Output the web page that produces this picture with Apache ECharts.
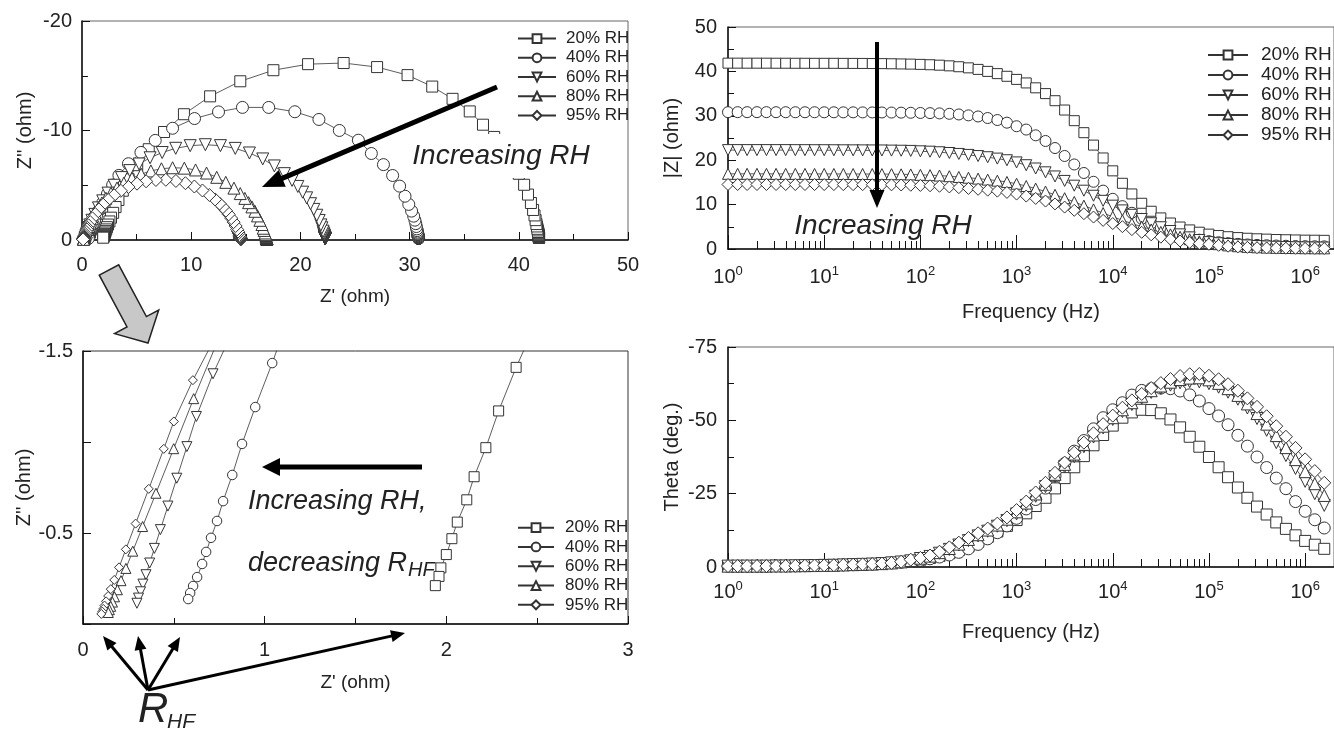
<!DOCTYPE html>
<html>
<head>
<meta charset="utf-8">
<title>Impedance vs RH</title>
<script src="https://cdn.jsdelivr.net/npm/echarts@6/dist/echarts.min.js"></script>
<style>
  html, body { margin: 0; padding: 0; background: #fff; }
  #main { width: 1334px; height: 731px; }
</style>
</head>
<body>
<div id="main"></div>
<script>
// series names
const names = ['20% RH', '40% RH', '60% RH', '80% RH', '95% RH'];

// measurement frequencies (Hz), 10 per decade
const freq = [
  1, 1.26, 1.58, 2, 2.51, 3.16, 3.98, 5.01, 6.31, 7.94,
  10, 12.6, 15.8, 20, 25.1, 31.6, 39.8, 50.1, 63.1, 79.4,
  100, 126, 158, 200, 251, 316, 398, 501, 631, 794,
  1000, 1260, 1580, 2000, 2510, 3160, 3980, 5010, 6310, 7940,
  1e4, 1.26e4, 1.58e4, 2e4, 2.51e4, 3.16e4, 3.98e4, 5.01e4, 6.31e4, 7.94e4,
  1e5, 1.26e5, 1.58e5, 2e5, 2.51e5, 3.16e5, 3.98e5, 5.01e5, 6.31e5, 7.94e5,
  1e6, 1.26e6, 1.58e6
];

// |Z| (ohm)
const zmag20 = [
  41.86,41.86,41.85,41.85,41.85,41.84,41.84,41.83,41.83,41.82,
  41.82,41.82,41.81,41.80,41.79,41.77,41.75,41.72,41.68,41.64,
  41.58,41.50,41.40,41.25,41.05,40.80,40.45,40.00,39.50,38.90,
  38.20,37.40,36.30,35.00,33.40,31.30,28.90,26.20,23.40,20.50,
  17.60,14.80,12.40,10.30,8.50,7.00,5.85,4.95,4.30,3.78,
  3.35,3.03,2.77,2.57,2.42,2.30,2.22,2.135,2.084,2.036,
  1.994,1.977,1.951
];
const zmag40 = [
  30.82,30.82,30.82,30.82,30.82,30.81,30.81,30.80,30.80,30.80,
  30.79,30.79,30.78,30.78,30.77,30.76,30.75,30.73,30.71,30.68,
  30.64,30.60,30.54,30.45,30.30,30.10,29.85,29.50,29.05,28.45,
  27.65,26.90,25.60,24.33,22.74,20.95,19.04,17.12,15.14,13.15,
  11.30,9.65,8.16,6.80,5.75,4.80,3.90,3.15,2.55,2.10,
  1.772,1.523,1.321,1.160,1.025,0.930,0.849,0.785,0.734,0.679,
  0.641,0.614,0.595
];
const zmag60 = [
  22.27,22.27,22.27,22.27,22.27,22.27,22.27,22.26,22.26,22.25,
  22.25,22.24,22.23,22.22,22.21,22.20,22.19,22.16,22.13,22.09,
  22.00,21.92,21.79,21.62,21.41,21.19,20.93,20.67,20.36,19.99,
  19.50,18.87,18.13,17.27,16.34,15.33,14.26,13.13,11.99,10.85,
  9.76,8.69,7.70,6.75,5.80,4.90,4.05,3.30,2.62,2.02,
  1.55,1.30,1.13,0.953,0.799,0.671,0.572,0.497,0.440,0.396,
  0.363,0.337,0.318
];
const zmag80 = [
  16.93,16.93,16.93,16.93,16.93,16.92,16.92,16.92,16.91,16.91,
  16.91,16.90,16.90,16.89,16.89,16.88,16.87,16.85,16.82,16.79,
  16.70,16.63,16.54,16.39,16.22,16.05,15.85,15.63,15.39,15.10,
  14.70,14.18,13.60,12.94,12.21,11.44,10.60,9.76,8.92,8.09,
  7.26,6.46,5.73,5.03,4.40,3.84,3.30,2.75,2.20,1.72,
  1.38,1.085,0.823,0.628,0.485,0.386,0.317,0.267,0.229,0.202,
  0.181,0.165,0.153
];
const zmag95 = [
  14.53,14.53,14.53,14.53,14.53,14.53,14.53,14.52,14.52,14.51,
  14.51,14.51,14.50,14.49,14.49,14.48,14.46,14.45,14.42,14.36,
  14.31,14.24,14.13,13.98,13.81,13.64,13.45,13.25,13.03,12.74,
  12.37,11.92,11.39,10.80,10.15,9.44,8.71,7.95,7.20,6.45,
  5.73,5.03,4.37,3.76,3.19,2.66,2.20,1.80,1.47,1.22,
  1.06,0.826,0.623,0.473,0.369,0.297,0.245,0.207,0.178,0.156,
  0.139,0.126,0.115
];

// phase angle (deg.)
const theta20 = [
  -0.3,-0.3,-0.3,-0.3,-0.3,-0.35,-0.35,-0.4,-0.45,-0.5,
  -0.55,-0.6,-0.7,-0.8,-0.9,-1.0,-1.2,-1.4,-1.7,-2.0,
  -2.5,-3.1,-3.8,-4.7,-5.8,-7.1,-8.6,-10.3,-12.1,-14.0,
  -16.0,-18.3,-20.8,-23.6,-26.8,-30.3,-34.0,-37.8,-41.5,-45.0,
  -48.2,-50.9,-52.7,-53.6,-53.5,-52.4,-50.3,-47.6,-44.4,-41.0,
  -37.5,-34.0,-30.6,-27.1,-23.6,-20.6,-17.9,-15.2,-13.0,-10.8,
  -8.9,-7.6,-6.2
];
const theta40 = [
  -0.3,-0.3,-0.3,-0.3,-0.3,-0.35,-0.35,-0.4,-0.45,-0.5,
  -0.55,-0.6,-0.7,-0.8,-0.9,-1.0,-1.15,-1.35,-1.6,-1.9,
  -2.3,-2.8,-3.4,-4.1,-5.0,-6.2,-7.7,-9.6,-11.7,-14.0,
  -16.6,-19.8,-23.0,-26.9,-31.0,-35.3,-39.5,-43.1,-47.1,-50.9,
  -53.6,-56.0,-58.6,-60.2,-60.8,-61.0,-60.8,-60.0,-58.7,-56.6,
  -54.0,-51.5,-48.5,-44.9,-41.2,-37.5,-33.9,-30.3,-26.7,-22.3,
  -19.0,-16.1,-13.3
];
const theta60 = [
  -0.3,-0.3,-0.3,-0.3,-0.3,-0.35,-0.35,-0.4,-0.45,-0.5,
  -0.55,-0.6,-0.7,-0.8,-0.9,-1.0,-1.15,-1.4,-1.7,-2.1,
  -2.9,-3.6,-4.7,-6.0,-7.5,-9.0,-10.6,-12.2,-13.9,-15.8,
  -18.1,-21.0,-24.1,-27.4,-30.8,-34.2,-37.6,-41.0,-44.3,-47.4,
  -50.3,-53.0,-55.4,-57.6,-59.5,-60.9,-62.0,-62.8,-63.2,-63.1,
  -62.5,-61.3,-59.6,-57.2,-54.2,-50.6,-46.6,-42.4,-38.0,-33.6,
  -29.2,-25.0,-21.0
];
const theta80 = [
  -0.3,-0.3,-0.3,-0.3,-0.3,-0.35,-0.35,-0.4,-0.45,-0.5,
  -0.55,-0.6,-0.7,-0.8,-0.9,-1.0,-1.15,-1.4,-1.75,-2.2,
  -3.0,-3.7,-4.9,-6.3,-7.8,-9.4,-11.0,-12.6,-14.3,-16.3,
  -18.8,-21.8,-24.9,-28.2,-31.6,-35.0,-38.5,-41.8,-45.0,-48.0,
  -50.9,-53.6,-56.0,-58.2,-60.1,-61.7,-63.0,-63.9,-64.4,-64.5,
  -63.8,-62.6,-60.8,-58.5,-55.6,-52.3,-48.7,-44.8,-40.7,-36.6,
  -32.5,-28.4,-24.4
];
const theta95 = [
  -0.3,-0.3,-0.3,-0.3,-0.3,-0.35,-0.35,-0.4,-0.45,-0.5,
  -0.55,-0.6,-0.7,-0.8,-0.9,-1.0,-1.2,-1.4,-1.8,-2.5,
  -3.1,-3.9,-5.2,-6.7,-8.3,-9.9,-11.5,-13.1,-14.8,-16.9,
  -19.4,-22.3,-25.4,-28.7,-32.1,-35.6,-39.0,-42.4,-45.6,-48.7,
  -51.6,-54.3,-56.8,-59.0,-61.0,-62.7,-64.1,-65.1,-65.7,-65.8,
  -65.2,-64.0,-62.3,-60.1,-57.5,-54.6,-51.4,-48.0,-44.4,-40.6,
  -36.7,-32.7,-28.7
];

// tick labels
const decades = [1, 10, 100, 1000, 1e4, 1e5, 1e6];
const fMax = 1995262; // 10^6.3, right edge of the frequency axes

const zmag = [zmag20, zmag40, zmag60, zmag80, zmag95];
const theta = [theta20, theta40, theta60, theta80, theta95];

const FONT = 'Liberation Sans, Arial, Helvetica, sans-serif';
const INK = '#222';
const symbols = ['rect', 'circle', 'triangle', 'triangle', 'diamond'];
const rotates = [0, 0, 180, 0, 0];
const sizeBig = [11, 12, 12, 12, 13];
const sizeSmall = [10, 9.5, 10, 10, 9];

// minor log ticks 2..9 of every decade
const minorTicks = [];
decades.forEach(function (d) {
  for (let k = 2; k <= 9; k++) if (k * d < fMax) minorTicks.push(k * d);
});

// Nyquist points built from |Z| and theta
function nyquist(i) {
  return freq.map(function (f, j) {
    const r = theta[i][j] * Math.PI / 180;
    return [zmag[i][j] * Math.cos(r), zmag[i][j] * Math.sin(r)];
  });
}

function line(i, xIdx, yIdx, data, size) {
  return {
    name: names[i], type: 'line', xAxisIndex: xIdx, yAxisIndex: yIdx, data: data,
    symbol: symbols[i], symbolRotate: rotates[i], symbolSize: size,
    lineStyle: { color: '#333', width: 0.8 },
    itemStyle: { color: '#fff', borderColor: '#333', borderWidth: 1 },
    emphasis: { disabled: true }, clip: true
  };
}

const series = [];
names.forEach(function (n, i) {
  const nq = nyquist(i);
  series.push(line(i, 0, 0, nq, sizeBig[i]));
  series.push(line(i, 1, 1, nq, sizeSmall[i]));
  series.push(line(i, 2, 2, freq.map(function (f, j) { return [f, zmag[i][j]]; }), sizeBig[i] - 1));
  series.push(line(i, 4, 3, freq.map(function (f, j) { return [f, theta[i][j]]; }), sizeBig[i]));
});

const tickStyle = { color: '#111', width: 1 };
const axisLineStyle = { lineStyle: { color: '#111', width: 1.5 } };
const labelStyle = { color: INK, fontSize: 20, fontFamily: FONT };
const nameStyle = { color: INK, fontSize: 20, fontFamily: FONT };

function valueAxis(grid, min, max, interval, extra) {
  return Object.assign({
    type: 'value', gridIndex: grid, min: min, max: max, interval: interval,
    axisLine: axisLineStyle,
    axisTick: { inside: true, length: 8, lineStyle: tickStyle },
    minorTick: { show: true, splitNumber: 2, length: 6, lineStyle: tickStyle },
    splitLine: { show: false },
    axisLabel: Object.assign({ margin: 10 }, labelStyle),
    nameLocation: 'middle', nameTextStyle: nameStyle
  }, extra);
}

function powLabel(v) {
  return '{b|10}{e|' + Math.round(Math.log10(v)) + '}';
}

function logAxis(grid, margin, gap) {
  return {
    type: 'log', logBase: 10, gridIndex: grid, min: 1, max: fMax, position: 'bottom',
    axisLine: axisLineStyle,
    axisTick: { inside: true, length: 14, customValues: decades, lineStyle: tickStyle },
    axisLabel: {
      customValues: decades, formatter: powLabel, margin: margin, color: INK,
      rich: {
        b: { fontSize: 20, lineHeight: 24, fontFamily: FONT, color: INK },
        e: { fontSize: 13, lineHeight: 12, verticalAlign: 'top', fontFamily: FONT, color: INK }
      }
    },
    splitLine: { show: false },
    name: 'Frequency (Hz)', nameLocation: 'middle', nameGap: gap, nameTextStyle: nameStyle
  };
}

function minorLogAxis(grid) {
  return {
    type: 'log', logBase: 10, gridIndex: grid, min: 1, max: fMax, position: 'bottom',
    axisLine: { show: false },
    axisTick: { inside: true, length: 8, customValues: minorTicks, lineStyle: tickStyle },
    axisLabel: { show: false }, splitLine: { show: false }
  };
}

function legend(left, top, itemW, fs, lh, pad) {
  return {
    data: names, orient: 'vertical', left: left, top: top, padding: 0,
    itemWidth: itemW, itemHeight: 11, itemGap: 0, selectedMode: false,
    textStyle: { fontSize: fs, lineHeight: lh, color: INK, fontFamily: FONT, padding: [0, 0, 0, pad] }
  };
}

// annotation arrows
function arrow(x1, y1, x2, y2, lw, hl, hw) {
  const dx = x2 - x1, dy = y2 - y1, L = Math.hypot(dx, dy), ux = dx / L, uy = dy / L;
  const bx = x2 - ux * hl, by = y2 - uy * hl;
  return [
    { type: 'line', z: 60, shape: { x1: x1, y1: y1, x2: bx + ux * 2, y2: by + uy * 2 },
      style: { stroke: '#000', lineWidth: lw } },
    { type: 'polygon', z: 60, shape: { points: [[x2, y2], [bx - uy * hw, by + ux * hw], [bx + uy * hw, by - ux * hw]] },
      style: { fill: '#000' } }
  ];
}

function label(x, y, txt, size, z, extra) {
  return {
    type: 'text', x: x, y: y, z: z,
    style: Object.assign({
      text: txt, fontSize: size, fontStyle: 'italic', fontFamily: FONT, fill: INK,
      align: 'left', verticalAlign: 'middle', textAlign: 'left', textVerticalAlign: 'middle'
    }, extra || {})
  };
}

const graphics = [].concat(
  arrow(497, 87, 262, 187, 5, 22, 9),
  arrow(877, 42, 877, 208, 4, 18, 7.5),
  arrow(422, 467, 262, 467, 5, 18, 9),
  arrow(148, 690, 103, 636, 3, 14, 6),
  arrow(148, 690, 138, 636, 3, 14, 6),
  arrow(148, 690, 180, 637, 3, 14, 6),
  arrow(148, 690, 405, 633, 3, 14, 6),
  [
    { type: 'polygon', z: 60,
      shape: { points: [[99.3, 275.2], [118.7, 264.8], [146.4, 316.6], [158.7, 310.0], [148, 343], [114.6, 333.6], [127.0, 327.0]] },
      style: { fill: '#c8c8c8', stroke: '#222', lineWidth: 1.5 } },
    label(501, 156, 'Increasing RH', 28, 50,
      { align: 'center', textAlign: 'center', backgroundColor: '#fff', padding: [8, 6] }),
    label(883, 226, 'Increasing RH', 28, 50, { align: 'center', textAlign: 'center' }),
    label(248, 501, 'Increasing RH,', 27, 0),
    label(248, 563, 'decreasing R', 27, 0),
    label(408, 570, 'HF', 20, 0),
    label(138, 710, 'R', 42, 60),
    label(167, 722, 'HF', 21, 60)
  ]
);

const chart = echarts.init(document.getElementById('main'), null, { renderer: 'canvas' });
chart.setOption({
  animation: false,
  backgroundColor: '#fff',
  textStyle: { fontFamily: FONT },
  grid: [
    { left: 82, top: 21, width: 546, height: 219, show: true, borderColor: '#666', borderWidth: 1 },
    { left: 83, top: 351, width: 545, height: 273, show: true, borderColor: '#333', borderWidth: 1 },
    { left: 728, top: 27, width: 606, height: 222, show: true, borderColor: '#666', borderWidth: 1 },
    { left: 728, top: 347, width: 606, height: 220, show: true, borderColor: '#666', borderWidth: 1 }
  ],
  xAxis: [
    valueAxis(0, 0, 50, 10, { name: "Z' (ohm)", nameGap: 47,
      nameTextStyle: Object.assign({}, nameStyle, { fontSize: 19 }),
      axisLabel: Object.assign({ margin: 15 }, labelStyle) }),
    valueAxis(1, 0, 3, 1, { name: "Z' (ohm)", nameGap: 49,
      nameTextStyle: Object.assign({}, nameStyle, { fontSize: 19 }),
      axisLabel: Object.assign({ margin: 16 }, labelStyle) }),
    logAxis(2, 16, 53),
    minorLogAxis(2),
    logAxis(3, 13, 55),
    minorLogAxis(3)
  ],
  yAxis: [
    valueAxis(0, -20, 0, 10, { inverse: true, name: "Z'' (ohm)", nameGap: 47, nameRotate: 90 }),
    valueAxis(1, -1.5, 0, 0.5, { inverse: true, name: "Z'' (ohm)", nameGap: 47, nameRotate: 90,
      minorTick: { show: false },
      axisLabel: Object.assign({ margin: 10, formatter: function (v) {
        return (Math.abs(v + 1.5) < 1e-6 || Math.abs(v + 0.5) < 1e-6) ? v.toFixed(1) : '';
      } }, labelStyle) }),
    valueAxis(2, 0, 50, 10, { name: '|Z| (ohm)', nameGap: 46, nameRotate: 90,
      axisLabel: Object.assign({ margin: 11 }, labelStyle) }),
    valueAxis(3, -75, 0, 25, { inverse: true, name: 'Theta (deg.)', nameGap: 46, nameRotate: 90,
      axisLabel: Object.assign({ margin: 11 }, labelStyle) })
  ],
  legend: [
    legend(517, 29, 38, 17, 19.2, 5),
    legend(517, 518, 36, 17, 19.3, 6),
    legend(1207, 45, 40, 19, 20, 8)
  ],
  series: series,
  graphic: graphics
});
</script>
</body>
</html>
